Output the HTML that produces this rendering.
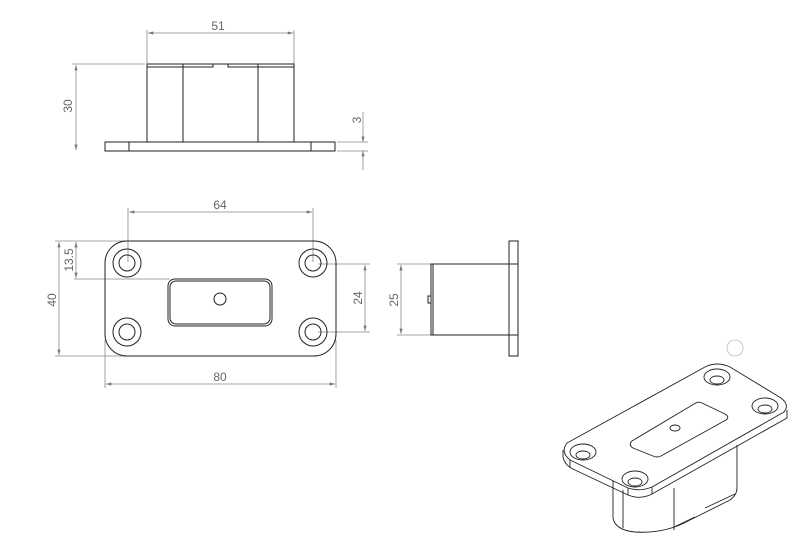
<!DOCTYPE html>
<html><head><meta charset="utf-8"><style>
html,body{margin:0;padding:0;background:#fff;width:800px;height:555px;overflow:hidden}
svg{display:block}
text{font-family:"Liberation Sans",sans-serif;font-size:12px;fill:#666}
</style></head><body>
<svg width="800" height="555" viewBox="0 0 800 555">
<defs>
<marker id="a" viewBox="0 0 10 6" refX="10" refY="3" markerWidth="8" markerHeight="4" orient="auto-start-reverse"><path d="M0,0L10,3L0,6z" fill="#777"/></marker>
</defs>
<g stroke="#888" stroke-width="0.8" fill="none">
<line x1="147" y1="30" x2="147" y2="64"/><line x1="294" y1="30" x2="294" y2="64"/>
<line x1="148" y1="33" x2="293" y2="33" marker-start="url(#a)" marker-end="url(#a)"/>
<line x1="72" y1="64" x2="145" y2="64"/>
<line x1="76" y1="65" x2="76" y2="150" marker-start="url(#a)" marker-end="url(#a)"/>
<line x1="337" y1="142" x2="368" y2="142"/><line x1="337" y1="151" x2="368" y2="151"/>
<line x1="363" y1="112" x2="363" y2="142" marker-end="url(#a)"/><line x1="363" y1="170" x2="363" y2="151" marker-end="url(#a)"/>
<line x1="128" y1="208" x2="128" y2="262"/><line x1="313" y1="208" x2="313" y2="262"/>
<line x1="129" y1="212" x2="312" y2="212" marker-start="url(#a)" marker-end="url(#a)"/>
<line x1="55" y1="241" x2="127" y2="241"/><line x1="55" y1="356" x2="127" y2="356"/>
<line x1="59" y1="242" x2="59" y2="355" marker-start="url(#a)" marker-end="url(#a)"/>
<line x1="74" y1="279" x2="170" y2="279"/>
<line x1="76" y1="242" x2="76" y2="278" marker-start="url(#a)" marker-end="url(#a)"/>
<line x1="318" y1="264" x2="370" y2="264"/><line x1="318" y1="332" x2="370" y2="332"/>
<line x1="365" y1="265" x2="365" y2="331" marker-start="url(#a)" marker-end="url(#a)"/>
<line x1="105" y1="340" x2="105" y2="388"/><line x1="336" y1="340" x2="336" y2="388"/>
<line x1="106" y1="384" x2="335" y2="384" marker-start="url(#a)" marker-end="url(#a)"/>
<line x1="397" y1="264" x2="431" y2="264"/><line x1="397" y1="335" x2="431" y2="335"/>
<line x1="401" y1="265" x2="401" y2="334" marker-start="url(#a)" marker-end="url(#a)"/>
</g>
<text x="218" y="30" text-anchor="middle">51</text>
<text transform="translate(72,106) rotate(-90)" text-anchor="middle">30</text>
<text transform="translate(361,120) rotate(-90)" text-anchor="middle">3</text>
<text x="220" y="209" text-anchor="middle">64</text>
<text transform="translate(56,300) rotate(-90)" text-anchor="middle">40</text>
<text transform="translate(73,260) rotate(-90)" text-anchor="middle">13.5</text>
<text transform="translate(362,298) rotate(-90)" text-anchor="middle">24</text>
<text x="220" y="381" text-anchor="middle">80</text>
<text transform="translate(398,300) rotate(-90)" text-anchor="middle">25</text>
<g stroke="#222" stroke-width="1" fill="none">
<rect x="147" y="64" width="147" height="78"/>
<line x1="183" y1="64" x2="183" y2="142"/><line x1="258" y1="64" x2="258" y2="142"/>
<path d="M147,67H213v-3M228,64v3H294"/>
<rect x="105" y="142" width="230" height="9"/>
<line x1="129" y1="142" x2="129" y2="151"/><line x1="311" y1="142" x2="311" y2="151"/>
<rect x="105" y="241" width="231" height="115" rx="22"/>
<circle cx="127" cy="263" r="14"/><circle cx="127" cy="263" r="8"/>
<circle cx="313" cy="263" r="14"/><circle cx="313" cy="263" r="8"/>
<circle cx="127" cy="332" r="14"/><circle cx="127" cy="332" r="8"/>
<circle cx="313" cy="332" r="14"/><circle cx="313" cy="332" r="8"/>
<rect x="168" y="279" width="104" height="47" rx="7"/>
<rect x="170" y="281" width="100" height="43" rx="6"/>
<circle cx="220" cy="299" r="6"/>
<rect x="509" y="241" width="9" height="115"/>
<line x1="509" y1="264" x2="518" y2="264"/><line x1="509" y1="335" x2="518" y2="335"/>
<rect x="431" y="264" width="78" height="71"/>
<line x1="433" y1="264" x2="433" y2="335"/>
<rect x="428" y="296" width="3" height="7"/>
</g>
<!-- iso view -->
<g stroke="#222" stroke-width="0.9" fill="none" stroke-linejoin="round">
<path d="M613,480V518Q615,530 635,532Q665,534 690,520L730,500Q737,495 737,488V445"/>
<line x1="623" y1="490" x2="623" y2="528"/>
<line x1="674" y1="488" x2="674" y2="530"/>
<path d="M674,527L695,517M705,508L735,494"/>
<path d="M567,443L705,367Q717,361 730,367L781,398Q790,405 784,412L652,487Q640,492 628,488L570,460Q560,452 567,443Z" fill="#fff"/>
<path d="M563,450V457Q565,466 575,470L628,495Q640,500 652,494L787,418V410"/>
<line x1="570" y1="460" x2="570" y2="467"/><line x1="628" y1="488" x2="628" y2="495"/><line x1="652" y1="487" x2="652" y2="494"/>
<path d="M632,441L694,404Q698,401 702,403L725,414Q730,417 726,420L661,456Q657,458 653,456L633,448Q628,445 632,441Z"/>
<ellipse cx="675" cy="428" rx="5" ry="3"/>
<ellipse cx="717" cy="377" rx="13" ry="8"/><ellipse cx="717" cy="380" rx="7" ry="4"/>
<ellipse cx="765" cy="406" rx="13" ry="8"/><ellipse cx="765" cy="409" rx="7" ry="4"/>
<ellipse cx="583" cy="452" rx="13" ry="8"/><ellipse cx="583" cy="455" rx="7" ry="4"/>
<ellipse cx="635" cy="479" rx="13" ry="8"/><ellipse cx="635" cy="482" rx="7" ry="4"/>
</g>
<circle cx="735" cy="348" r="8" stroke="#bbb" stroke-width="0.8" fill="none"/>
</svg>
</body></html>
